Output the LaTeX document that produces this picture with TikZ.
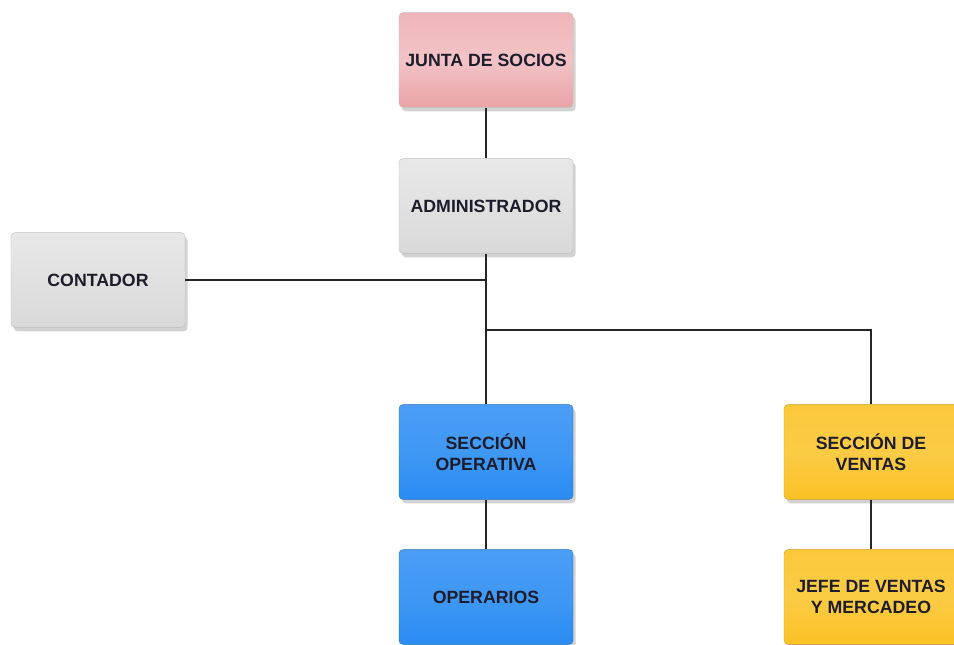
\documentclass[tikz,border=0pt]{standalone}
\usepackage{fontspec}
\setmainfont{Liberation Sans}
\usetikzlibrary{shadows}
\definecolor{socios}{HTML}{EBA3A8}
\definecolor{gris}{HTML}{D9D9D9}
\definecolor{azul}{HTML}{2A8CF2}
\definecolor{oro}{HTML}{FBC224}
\definecolor{letra}{HTML}{1C1C2A}
\begin{document}
\begin{tikzpicture}[x=0.75pt,y=-0.75pt,
    caja/.style={rounded corners=3pt, minimum width=130.5pt, minimum height=71pt,
      align=center, text=letra, font=\fontsize{13.3}{15.8}\selectfont\bfseries,
      draw=black!25, line width=0.3pt,
      drop shadow={shadow xshift=2pt, shadow yshift=-3pt, opacity=0.35}},
    rosa/.style={caja, top color=socios!80, bottom color=socios, middle color=socios!65},
    gris/.style={caja, top color=gris!60, bottom color=gris, middle color=gris!80},
    azul/.style={caja, draw=azul!80!black, top color=azul!85, bottom color=azul, middle color=azul!90!white},
    oro/.style={caja, draw=oro!80!black, top color=oro!90, bottom color=oro, middle color=oro!85!white},
    linea/.style={draw=black!85, line width=0.8pt}]
  \clip (0,0) rectangle (954,645);
  \fill[white] (0,0) rectangle (954,645);
  % cajas
  \node[rosa] (junta) at (486,60) {JUNTA DE SOCIOS};
  \node[gris] (adm) at (486,206) {ADMINISTRADOR};
  \node[gris] (cont) at (98,280) {CONTADOR};
  \node[azul] (secop) at (486,452) {SECCIÓN\\OPERATIVA};
  \node[azul] (oper) at (486,597) {OPERARIOS};
  \node[oro] (secven) at (871,452) {SECCIÓN DE\\VENTAS};
  \node[oro] (jefe) at (871,597) {JEFE DE VENTAS\\Y MERCADEO};
  % uniones
  \coordinate (j1) at (486,280);
  \coordinate (j2) at (486,330);
  \coordinate (j3) at (871,330);
  % lineas
  \draw[linea] (junta.south) -- (adm.north);
  \draw[linea] (adm.south) -- (j1) -- (secop.north);
  \draw[linea] (cont.east) -- (j1);
  \draw[linea] (j2) -- (j3) -- (secven.north);
  \draw[linea] (secop.south) -- (oper.north);
  \draw[linea] (secven.south) -- (jefe.north);
\end{tikzpicture}
\end{document}
